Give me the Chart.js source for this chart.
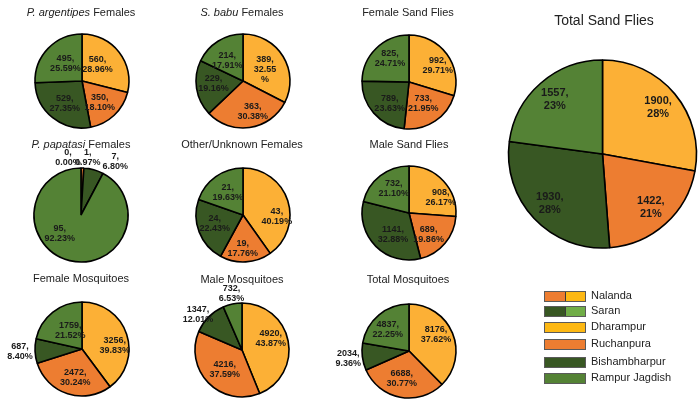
<!DOCTYPE html>
<html>
<head>
<meta charset="utf-8">
<script src="https://cdn.jsdelivr.net/npm/chart.js@4.4.1/dist/chart.umd.min.js"></script>
<style>
  html, body { margin: 0; padding: 0; background: #ffffff; }
  #wrap { position: relative; width: 700px; height: 414px; overflow: hidden; font-family: Arial, "Liberation Sans", sans-serif; }
  #wrap canvas { position: absolute; left: 0; top: 0; }
  .lg-row { position: absolute; left: 544px; height: 12px; }
  .lg-sw { position: absolute; left: 0; top: 1px; width: 40px; height: 9px; border: 1px solid #5a5a5a; display: flex; }
  .lg-sw span { flex: 1; height: 100%; }
  .lg-sw span + span { border-left: 1px solid #3a3a3a; }
  .lg-tx { position: absolute; left: 47px; top: -1px; font-size: 11px; color: #222; white-space: nowrap; line-height: 13px; }
</style>
</head>
<body>
<div id="wrap"></div>
<script>
// ---------------- data ----------------
const sites = ['Dharampur', 'Ruchanpura', 'Bishambharpur', 'Rampur Jagdish'];
const legendLabels = ['Nalanda', 'Saran', 'Dharampur', 'Ruchanpura', 'Bishambharpur', 'Rampur Jagdish'];

const pArgentipesFemales = [560, 350, 529, 495];
const sBabuFemales = [389, 363, 229, 214];
const femaleSandFlies = [992, 733, 789, 825];
const pPapatasiFemales = [0, 1, 7, 95];
const otherUnknownFemales = [43, 19, 24, 21];
const maleSandFlies = [908, 689, 1141, 732];
const femaleMosquitoes = [3256, 2472, 687, 1759];
const maleMosquitoes = [4920, 4216, 1347, 732];
const totalMosquitoes = [8176, 6688, 2034, 4837];
const totalSandFlies = [1900, 1422, 1930, 1557];

// ---------------- styles ----------------
const sliceColors = ['#FCB036', '#ED7D31', '#385723', '#548235'];
const FONT = 'Arial, "Liberation Sans", Helvetica, sans-serif';

const labelPlugin = {
  id: 'sliceLabels',
  afterDatasetsDraw(chart, args, o) {
    const ctx = chart.ctx;
    const meta = chart.getDatasetMeta(0);
    const data = chart.data.datasets[0].data;
    const total = data.reduce((a, b) => a + b, 0);
    ctx.save();
    ctx.fillStyle = '#1a1a1a';
    ctx.textAlign = 'center';
    ctx.textBaseline = 'middle';
    ctx.font = 'bold ' + o.size + 'px ' + FONT;
    meta.data.forEach((arc, i) => {
      const p = arc.getProps(['x', 'y', 'startAngle', 'endAngle', 'outerRadius'], true);
      const mid = (p.startAngle + p.endAngle) / 2;
      const pl = o.place[i];
      const px = p.x + Math.cos(mid) * p.outerRadius * pl[0] + pl[1];
      const py = p.y + Math.sin(mid) * p.outerRadius * pl[0] + pl[2];
      const pct = (data[i] / total * 100).toFixed(o.decimals);
      const lines = (o.split && o.split[i]) ? [data[i] + ',', pct, '%'] : [data[i] + ',', pct + '%'];
      lines.forEach((l, k) => ctx.fillText(l, px, py + (k - (lines.length - 1) / 2) * o.lineHeight));
    });
    // title (supports italic segments)
    const t = o.title;
    ctx.fillStyle = '#222';
    ctx.textAlign = 'left';
    let w = 0;
    t.segs.forEach(s => { ctx.font = (s.i ? 'italic ' : '') + t.size + 'px ' + FONT; w += ctx.measureText(s.t).width; });
    let x = t.x - w / 2;
    t.segs.forEach(s => {
      ctx.font = (s.i ? 'italic ' : '') + t.size + 'px ' + FONT;
      ctx.fillText(s.t, x, t.y);
      x += ctx.measureText(s.t).width;
    });
    ctx.restore();
  }
};

const wrap = document.getElementById('wrap');

function makePie(values, cx, cy, r, title, labelOpts) {
  const cv = document.createElement('canvas');
  cv.width = 700; cv.height = 414;
  cv.style.width = '700px'; cv.style.height = '414px';
  wrap.appendChild(cv);
  const S = 2 * r + 12;
  new Chart(cv, {
    type: 'pie',
    data: {
      labels: sites,
      datasets: [{
        data: values,
        backgroundColor: sliceColors,
        borderColor: '#000000',
        borderWidth: 1.6
      }]
    },
    options: {
      responsive: false,
      animation: false,
      events: [],
      radius: r,
      layout: { padding: { left: cx - S / 2, right: 700 - cx - S / 2, top: cy - S / 2, bottom: 414 - cy - S / 2 } },
      plugins: {
        legend: { display: false },
        tooltip: { enabled: false },
        title: { display: false },
        sliceLabels: Object.assign({ size: 9, lineHeight: 10, decimals: 2, title: title }, labelOpts)
      }
    },
    plugins: [labelPlugin]
  });
}

function T(segs, x, y, size) { return { segs: segs, x: x, y: y, size: size || 11 }; }

// Row 1
makePie(pArgentipesFemales, 82, 81, 47,
  T([{ t: 'P. argentipes', i: true }, { t: ' Females' }], 81, 13),
  { place: [[0.55, -5, -1], [0.55, 0, 3], [0.55, -1, 2], [0.55, 2, 0]] });
makePie(sBabuFemales, 243, 81, 47,
  T([{ t: 'S. babu', i: true }, { t: ' Females' }], 242, 13),
  { place: [[0.55, 0, 2], [0.55, 6, 5], [0.55, -4, -2], [0.55, -2, 1]], split: [true, false, false, false] });
makePie(femaleSandFlies, 409, 82, 47,
  T([{ t: 'Female Sand Flies' }], 408, 13),
  { place: [[0.55, 8, -1], [0.55, 0, 0], [0.55, 0, 4], [0.55, -1, -5]] });

// Row 2
makePie(pPapatasiFemales, 81, 215, 47,
  T([{ t: 'P. papatasi', i: true }, { t: ' Females' }], 81, 145),
  { place: [[1.2, -13, -1], [1.2, 5, -1], [1.2, 19, 1], [0.55, -15, -7]] });
makePie(otherUnknownFemales, 243, 215, 47,
  T([{ t: 'Other/Unknown Females' }], 242, 145),
  { place: [[0.6, 7, 10], [0.6, -2, 5], [0.6, -2, -2], [0.6, 1, 1]] });
makePie(maleSandFlies, 409, 213, 47,
  T([{ t: 'Male Sand Flies' }], 409, 145),
  { place: [[0.6, 11, 4], [0.6, -2, 3], [0.6, 4, 2], [0.6, 2, -2]] });

// Row 3
makePie(femaleMosquitoes, 82, 349, 47,
  T([{ t: 'Female Mosquitoes' }], 81, 279),
  { place: [[0.6, 6, 5], [0.6, 2, 2], [1.32, 0, 0], [0.6, 6, 4]] });
makePie(maleMosquitoes, 242, 350, 47,
  T([{ t: 'Male Mosquitoes' }], 242, 280),
  { place: [[0.6, 1, -6], [0.6, 3, 0], [1.2, -4, 4], [1.2, 1, -1]] });
makePie(totalMosquitoes, 409, 351, 47,
  T([{ t: 'Total Mosquitoes' }], 408, 280),
  { place: [[0.6, 1, -6], [0.6, -2, 0], [1.3, 0, 0], [0.6, -3, 0]] });

// Big chart
makePie(totalSandFlies, 605, 154, 94,
  T([{ t: 'Total Sand Flies' }], 604, 21, 14),
  { place: [[0.77, 0, 0], [0.77, 0, 0], [0.77, 0, 0], [0.77, 0, 0]], decimals: 0, size: 11, lineHeight: 13 });

// ---------------- legend ----------------
const legendSwatches = [
  ['#ED7D31', '#FDB813'],
  ['#385723', '#70AD47'],
  ['#FDB813'],
  ['#ED7D31'],
  ['#385723'],
  ['#548235']
];
const legendRowY = [296, 311, 327, 344, 362, 378];
legendLabels.forEach((lab, i) => {
  const row = document.createElement('div');
  row.className = 'lg-row';
  row.style.top = (legendRowY[i] - 6) + 'px';
  const sw = document.createElement('div');
  sw.className = 'lg-sw';
  legendSwatches[i].forEach(c => { const s = document.createElement('span'); s.style.background = c; sw.appendChild(s); });
  const tx = document.createElement('div');
  tx.className = 'lg-tx';
  tx.textContent = lab;
  row.appendChild(sw);
  row.appendChild(tx);
  wrap.appendChild(row);
});
</script>
</body>
</html>
